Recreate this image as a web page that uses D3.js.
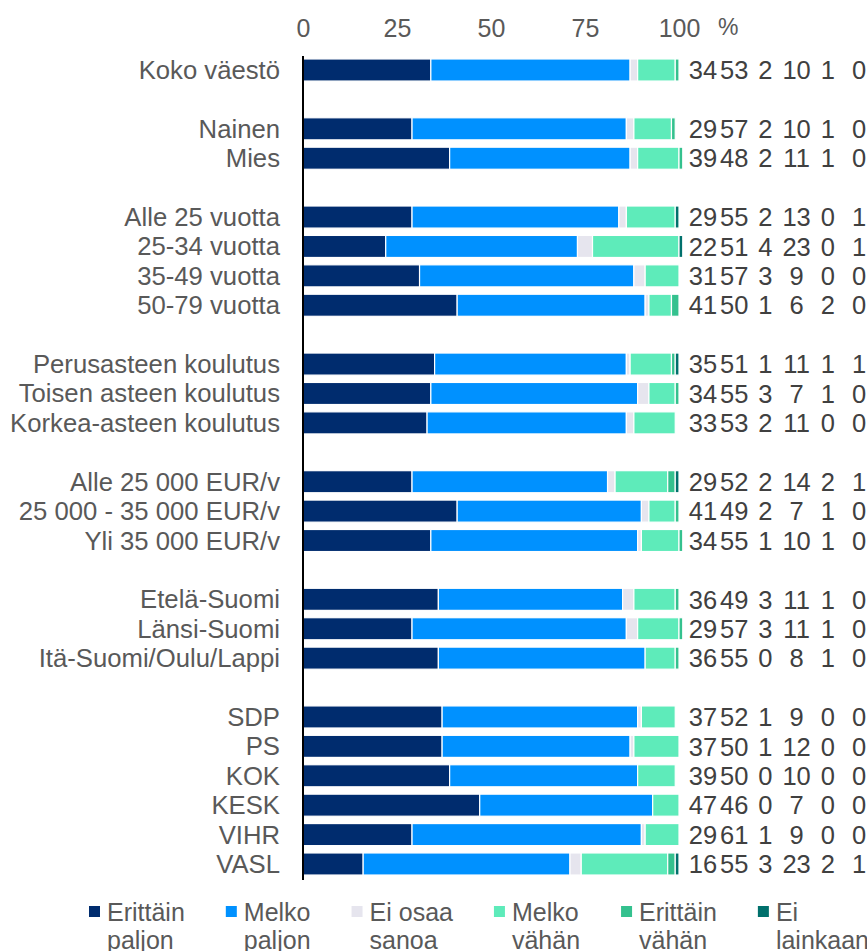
<!DOCTYPE html>
<html><head><meta charset="utf-8">
<script src="https://cdn.jsdelivr.net/npm/d3@7"></script>
<style>
html,body{margin:0;padding:0;background:#fff;}
svg{display:block;font-family:"Liberation Sans",Arial,sans-serif;}
</style></head>
<body>
<svg id="chart" width="867" height="951"></svg>
<script>
const categories = ["Koko väestö","Nainen","Mies","Alle 25 vuotta","25-34 vuotta","35-49 vuotta","50-79 vuotta",
  "Perusasteen koulutus","Toisen asteen koulutus","Korkea-asteen koulutus",
  "Alle 25 000 EUR/v","25 000 - 35 000 EUR/v","Yli 35 000 EUR/v",
  "Etelä-Suomi","Länsi-Suomi","Itä-Suomi/Oulu/Lappi",
  "SDP","PS","KOK","KESK","VIHR","VASL"];
const groupSizes = [1,2,4,3,3,3,6];
const seriesNames = ["Erittäin paljon","Melko paljon","Ei osaa sanoa","Melko vähän","Erittäin vähän","Ei lainkaan"];
const legendLines = [["Erittäin","paljon"],["Melko","paljon"],["Ei osaa","sanoa"],["Melko","vähän"],["Erittäin","vähän"],["Ei","lainkaan"]];
const seriesColors = ["#002c6e","#0091ff","#e6e5ee","#5eebba","#34c18e","#00706c"];
const erittainPaljon = [34,29,39,29,22,31,41,35,34,33,29,41,34,36,29,36,37,37,39,47,29,16];
const melkoPaljon    = [53,57,48,55,51,57,50,51,55,53,52,49,55,49,57,55,52,50,50,46,61,55];
const eiOsaaSanoa    = [2,2,2,2,4,3,1,1,3,2,2,2,1,3,3,0,1,1,0,0,1,3];
const melkoVahan     = [10,10,11,13,23,9,6,11,7,11,14,7,10,11,11,8,9,12,10,7,9,23];
const erittainVahan  = [1,1,1,0,0,0,2,1,1,0,2,1,1,1,1,1,0,0,0,0,0,2];
const eiLainkaan     = [0,0,0,1,1,0,0,1,0,0,1,0,0,0,0,0,0,0,0,0,0,1];
const xTicks = [0,25,50,75,100];

const series = [erittainPaljon,melkoPaljon,eiOsaaSanoa,melkoVahan,erittainVahan,eiLainkaan];

// build slot domain with spacer rows between groups
const slots = [];
let ci = 0;
groupSizes.forEach((g,gi)=>{
  if(gi>0) slots.push("__gap"+gi);
  for(let k=0;k<g;k++){ slots.push(categories[ci++]); }
});

const rows = categories.map((c,i)=>({cat:c, vals:series.map(s=>s[i])}));
const stack = d3.stack().keys(d3.range(series.length)).value((d,k)=>d.vals[k]);
const stacked = stack(rows);

const svg = d3.select("#chart");
const x = d3.scaleLinear().domain([0,100]).range([303,679]);
const y = d3.scaleBand().domain(slots).range([55.3,878.7]).paddingInner(0.25).paddingOuter(0.125);

// bars
svg.append("g").selectAll("g").data(stacked).join("g")
  .attr("fill",(d,i)=>seriesColors[i])
  .selectAll("rect").data(d=>d).join("rect")
  .attr("x",d=>x(d[0]))
  .attr("y",d=>y(d.data.cat))
  .attr("width",d=>Math.max(0,x(d[1])-x(d[0])))
  .attr("height",y.bandwidth())
  .attr("stroke","#fff").attr("stroke-width",1.2);

// axis line
svg.append("line").attr("x1",x(0)).attr("x2",x(0)).attr("y1",56).attr("y2",880)
  .attr("stroke","#000").attr("stroke-width",2);

// top tick labels
const xAxis = d3.axisTop(x).tickValues(xTicks).tickSize(0).tickPadding(0);
const ax = svg.append("g").attr("transform","translate(0,37)").call(xAxis);
ax.select(".domain").remove();
ax.selectAll("text").attr("font-size",25).attr("fill","#595959")
  .attr("font-family","'Liberation Sans',Arial,sans-serif").attr("dy","0");
svg.append("text").attr("x",718).attr("y",35).attr("font-size",23).attr("fill","#595959").text("%");

// category labels
svg.append("g").selectAll("text").data(categories).join("text")
  .attr("x",280).attr("y",d=>y(d)+y.bandwidth()/2).attr("dy","0.35em")
  .attr("text-anchor","end").attr("font-size",25.7).attr("fill","#595959").text(d=>d);

// value columns
const colX = d3.scalePoint().domain(d3.range(series.length)).range([703,859]);
const vg = svg.append("g");
rows.forEach(r=>{
  vg.selectAll(null).data(r.vals).join("text")
    .attr("x",(d,k)=>colX(k)).attr("y",y(r.cat)+y.bandwidth()/2).attr("dy","0.36em")
    .attr("text-anchor","middle").attr("font-size",25.5).attr("fill","#404040").text(d=>d);
});

// legend
const lg = svg.append("g");
let lx = 89;
legendLines.forEach((lines,i)=>{
  const g = lg.append("g").attr("transform",`translate(${lx},0)`);
  g.append("rect").attr("x",0).attr("y",906).attr("width",11).attr("height",11).attr("fill",seriesColors[i]);
  const t = g.append("text").attr("x",18).attr("y",921).attr("font-size",25).attr("fill","#595959");
  t.append("tspan").attr("x",18).attr("y",921).text(lines[0]);
  t.append("tspan").attr("x",18).attr("y",949).text(lines[1]);
  const w = d3.max(t.selectAll("tspan").nodes(),n=>n.getComputedTextLength());
  lx += w + 59;
});
</script>
</body></html>
